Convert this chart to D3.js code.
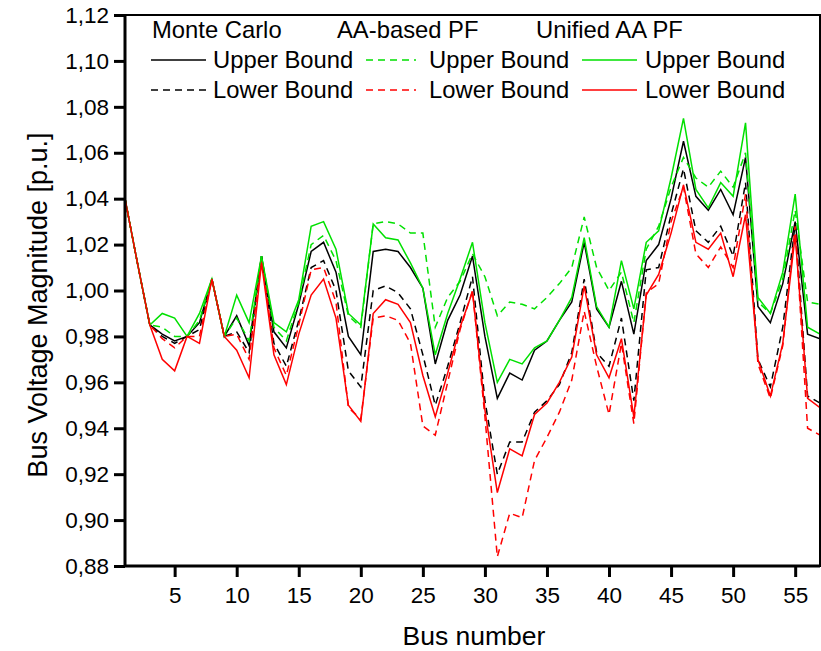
<!DOCTYPE html>
<html>
<head>
<meta charset="utf-8">
<script src="https://cdn.jsdelivr.net/npm/d3@7"></script>
<style>
  html, body { margin: 0; padding: 0; background: #fff; }
  svg { display: block; font-family: "Liberation Sans", Arial, sans-serif; }
</style>
</head>
<body>
<svg id="chart" width="821" height="651"></svg>
<script>
// ---------------- DATA ----------------
const buses = d3.range(1, 58);

const mcUpper = [1.040,1.012,0.985,0.981,0.978,0.980,0.986,1.005,0.980,0.989,
  0.976,1.015,0.982,0.975,0.994,1.017,1.021,1.008,0.980,0.972,
  1.017,1.018,1.017,1.010,1.001,0.968,0.987,0.998,1.015,0.980,
  0.953,0.964,0.961,0.974,0.978,0.987,0.995,1.021,0.992,0.984,
  1.004,0.981,1.013,1.020,1.040,1.065,1.041,1.035,1.044,1.033,
  1.058,0.993,0.986,1.003,1.030,0.981,0.979];

const mcLower = [1.040,1.012,0.985,0.980,0.977,0.980,0.983,1.005,0.980,0.982,
  0.973,1.015,0.977,0.967,0.987,1.010,1.013,1.000,0.965,0.958,
  1.000,1.002,0.999,0.992,0.972,0.950,0.967,0.986,1.006,0.952,
  0.920,0.934,0.934,0.947,0.952,0.959,0.973,1.005,0.973,0.967,
  0.988,0.952,1.009,1.010,1.033,1.053,1.026,1.021,1.028,1.015,
  1.047,0.970,0.958,0.984,1.029,0.954,0.951];

const aaUpper = [1.040,1.012,0.985,0.984,0.980,0.980,0.987,1.005,0.980,0.988,
  0.978,1.015,0.984,0.978,0.995,1.020,1.024,1.013,0.989,0.984,
  1.029,1.030,1.029,1.025,1.025,0.984,0.997,1.004,1.016,1.006,
  0.989,0.995,0.994,0.992,0.997,1.003,1.010,1.032,1.010,1.000,
  1.008,0.986,1.018,1.028,1.045,1.058,1.049,1.045,1.052,1.045,
  1.060,0.995,0.990,1.005,1.035,0.995,0.994];

const aaLower = [1.040,1.012,0.985,0.979,0.975,0.980,0.980,1.005,0.980,0.981,
  0.970,1.014,0.975,0.963,0.985,1.009,1.010,0.995,0.949,0.944,
  0.988,0.989,0.987,0.977,0.941,0.937,0.960,0.983,1.000,0.945,
  0.884,0.903,0.901,0.926,0.936,0.947,0.961,0.991,0.967,0.946,
  0.977,0.942,0.999,1.003,1.030,1.045,1.016,1.010,1.019,1.010,
  1.042,0.968,0.953,0.976,1.028,0.940,0.937];

const ufUpper = [1.040,1.012,0.985,0.990,0.988,0.980,0.990,1.005,0.980,0.998,
  0.986,1.015,0.986,0.982,0.996,1.028,1.030,1.018,0.990,0.985,
  1.029,1.023,1.022,1.012,1.001,0.972,0.990,1.005,1.021,0.986,
  0.960,0.970,0.968,0.975,0.978,0.987,0.997,1.023,0.993,0.984,
  1.013,0.992,1.021,1.026,1.049,1.075,1.044,1.036,1.047,1.041,
  1.073,0.997,0.990,1.008,1.042,0.984,0.981];

const ufLower = [1.040,1.012,0.985,0.970,0.965,0.980,0.977,1.005,0.980,0.974,
  0.962,1.012,0.972,0.959,0.981,0.998,1.005,0.988,0.950,0.943,
  0.990,0.996,0.994,0.986,0.963,0.945,0.964,0.984,0.9995,0.948,
  0.912,0.931,0.928,0.946,0.951,0.960,0.971,1.002,0.972,0.962,
  0.979,0.945,0.998,1.007,1.025,1.046,1.021,1.018,1.025,1.006,
  1.033,0.970,0.954,0.977,1.024,0.953,0.949];

const xTicks = [5,10,15,20,25,30,35,40,45,50,55];
const yTicks = [0.88,0.90,0.92,0.94,0.96,0.98,1.00,1.02,1.04,1.06,1.08,1.10,1.12];

const groupNames = ["Monte Carlo", "AA-based PF", "Unified AA PF"];
const boundNames = ["Upper Bound", "Lower Bound"];

// ---------------- LAYOUT ----------------
const GREEN = "#00e000", RED = "#ff0000", BLACK = "#000000";
const series = [
  { values: mcUpper, color: BLACK, dash: null },
  { values: mcLower, color: BLACK, dash: "7,5" },
  { values: aaUpper, color: GREEN, dash: "7,5" },
  { values: aaLower, color: RED,   dash: "7,5" },
  { values: ufUpper, color: GREEN, dash: null },
  { values: ufLower, color: RED,   dash: null }
];

const pL = 125, pR = 820, pT = 15, pB = 566;
const svg = d3.select("#chart");

const x = d3.scaleLinear().domain([1, 57]).range([pL, pR]);
const y = d3.scaleLinear().domain([0.88, 1.12]).range([pB, pT]);

svg.append("clipPath").attr("id", "clip")
  .append("rect").attr("x", pL).attr("y", pT)
  .attr("width", pR - pL).attr("height", pB - pT);

// lines
const line = d3.line().x((d, i) => x(buses[i])).y(d => y(d));
const gLines = svg.append("g").attr("clip-path", "url(#clip)");
series.forEach(s => {
  gLines.append("path")
    .datum(s.values)
    .attr("d", line)
    .attr("fill", "none")
    .attr("stroke", s.color)
    .attr("stroke-width", 1.5)
    .attr("stroke-linejoin", "miter")
    .attr("stroke-dasharray", s.dash);
});

// frame
svg.append("rect")
  .attr("x", pL).attr("y", pT)
  .attr("width", pR - pL).attr("height", pB - pT)
  .attr("fill", "none").attr("stroke", "#000").attr("stroke-width", 2);

// axes
const fmt = d => d3.format(".2f")(d).replace(".", ",");
const yAxis = d3.axisLeft(y).tickValues(yTicks).tickFormat(fmt).tickSize(11).tickPadding(5);
const xAxis = d3.axisBottom(x).tickValues(xTicks).tickFormat(d3.format("d")).tickSize(11).tickPadding(10);

const gy = svg.append("g").attr("transform", `translate(${pL},0)`).call(yAxis);
const gx = svg.append("g").attr("transform", `translate(0,${pB})`).call(xAxis);
[gx, gy].forEach(g => {
  g.select(".domain").attr("stroke", "#000").attr("stroke-width", 3);
  g.selectAll(".tick line").attr("stroke", "#000").attr("stroke-width", 3);
  g.selectAll(".tick text")
    .attr("fill", "#000")
    .style("font-family", "'Liberation Sans', Arial, sans-serif")
    .style("font-size", "22.5px");
});
gy.select(".domain").attr("d", `M0,${pT}V${pB}`);
gx.select(".domain").attr("d", `M${pL},0H${pR}`);

// axis titles
svg.append("text")
  .attr("x", 474).attr("y", 645)
  .attr("text-anchor", "middle")
  .style("font-size", "26.5px")
  .text("Bus number");

svg.append("text")
  .attr("transform", "translate(47,305) rotate(-90)")
  .attr("text-anchor", "middle")
  .style("font-size", "27px")
  .text("Bus Voltage Magnitude [p.u.]");

// legend
const legendCols = [
  { hx: 152, lx0: 151, lx1: 206, tx: 213, up: series[0], low: series[1] },
  { hx: 337, lx0: 366, lx1: 416, tx: 429, up: series[2], low: series[3] },
  { hx: 536, lx0: 582, lx1: 637, tx: 645, up: series[4], low: series[5] }
];
const gLeg = svg.append("g").style("font-size", "23.8px");
legendCols.forEach((c, i) => {
  gLeg.append("text").attr("x", c.hx).attr("y", 38).text(groupNames[i]);
  [[c.up, 60, 68], [c.low, 90, 98]].forEach(([s, ly, ty], j) => {
    gLeg.append("line")
      .attr("x1", c.lx0).attr("x2", c.lx1).attr("y1", ly).attr("y2", ly)
      .attr("stroke", s.color).attr("stroke-width", 1.5)
      .attr("stroke-dasharray", s.dash);
    gLeg.append("text").attr("x", c.tx).attr("y", ty).text(boundNames[j]);
  });
});
</script>
</body>
</html>
